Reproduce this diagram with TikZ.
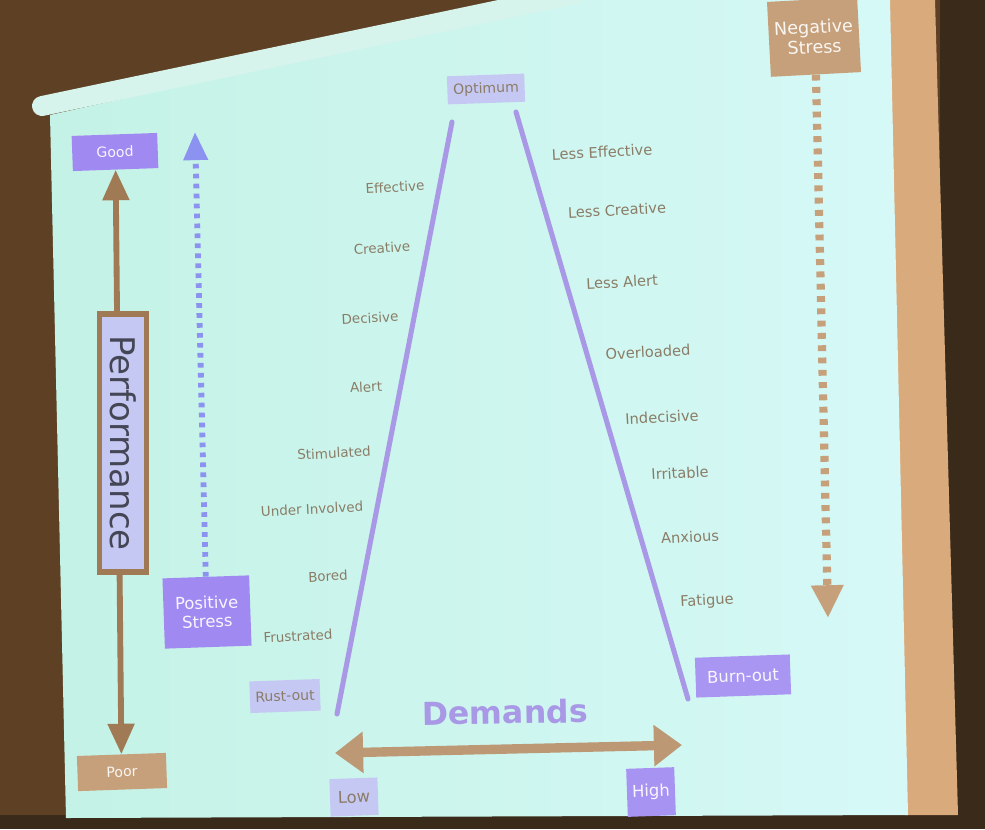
\documentclass[tikz,border=0pt]{standalone}
\usepackage{fontspec}
\setmainfont{DejaVu Sans}
\usetikzlibrary{arrows.meta}
\definecolor{wall}{HTML}{5E4024}
\definecolor{walldark}{HTML}{3A2A1A}
\definecolor{screen}{HTML}{C4F2E6}
\definecolor{screenlight}{HTML}{D6F9F7}
\definecolor{frameb}{HTML}{D9AA7C}
\definecolor{roller}{HTML}{D6F3EC}
\definecolor{lbl}{HTML}{8A7C66}
\definecolor{purp}{HTML}{A08AF2}
\definecolor{lav}{HTML}{C6C8F4}
\definecolor{tan}{HTML}{C6A07B}
\definecolor{brownarr}{HTML}{A07A55}
\definecolor{trap}{HTML}{A898E6}
\definecolor{posblue}{HTML}{8C92F0}
\tikzset{
  lab/.style={text=lbl,font=\fontsize{11.5}{13}\selectfont,rotate=3,inner sep=1pt},
  rlab/.style={lab,font=\fontsize{12.5}{14}\selectfont},
  box/.style={rotate=2,minimum width=#1,inner sep=1pt,align=center,font=\fontsize{12}{13}\selectfont},
  purpbox/.style={box=#1,fill=purp,text=white!92!purp},
  lavbox/.style={box=#1,fill=lav,text=lbl},
  tanbox/.style={box=#1,fill=tan,text=white!90!tan},
  trapline/.style={draw=trap,line width=4.3pt,line cap=round},
}
\begin{document}
\begin{tikzpicture}[x=0.03cm,y=-0.03cm]
\useasboundingbox (0,0) rectangle (985,829);
% photo background
\fill[wall] (0,0) rectangle (985,829);
\fill[walldark] (940,0) rectangle (985,829);
\fill[walldark] (0,815) rectangle (985,829);
\fill[frameb] (885,0) -- (935,0) -- (958,815) -- (905,815) -- cycle;
\shade[left color=screen,right color=screenlight] (50,115) -- (565,0) -- (890,0) -- (908,815) -- (66,818) -- cycle;
\draw[roller,line width=17pt,line cap=round] (42,106) -- (575,-6);
% trapezoid
\coordinate (tl) at (452,122);
\coordinate (bl) at (337,714);
\coordinate (tr) at (516,112);
\coordinate (br) at (688,699);
\draw[trapline] (tl) -- (bl);
\draw[trapline] (tr) -- (br);
% top box
\node[lavbox=66pt,minimum height=24pt] (opt) at (486,89) {Optimum};
% negative stress
\node[tanbox=77pt,minimum height=64pt,rotate=1,font=\fontsize{15}{17}\selectfont] (neg) at (814,37) {Negative\\Stress};
\coordinate (negend) at (828,618);
\draw[tan,line width=7pt,dash pattern=on 5pt off 5.5pt,-{Triangle[width=26pt,length=28pt]}] (neg.south) -- (negend);
% performance axis
\node[purpbox=73pt,minimum height=30pt] (good) at (115,152) {Good};
\node[tanbox=76pt,minimum height=30pt] (poor) at (122,772) {Poor};
\draw[brownarr,line width=5pt,{Triangle[width=22pt,length=26pt]}-{Triangle[width=22pt,length=26pt]}] (good.south) -- (poor.north);
\node[draw=brownarr,line width=5pt,fill=lav,minimum width=220pt,minimum height=40pt,rotate=-90,text=black!65!lav,font=\fontsize{29}{31}\selectfont,inner sep=2pt] (perf) at (123,443) {Performance};
% positive stress
\node[purpbox=74pt,minimum height=60pt,font=\fontsize{14}{16}\selectfont] (pos) at (207,612) {Positive\\Stress};
\coordinate (posend) at (195,132);
\draw[posblue,line width=5pt,dash pattern=on 4pt off 4.5pt,-{Triangle[width=20pt,length=24pt]}] (pos.north) -- (posend);
% left labels
\node[lab] (l1) at (395,187) {Effective};
\node[lab] (l2) at (382,248) {Creative};
\node[lab] (l3) at (370,318) {Decisive};
\node[lab] (l4) at (366,387) {Alert};
\node[lab] (l5) at (334,453) {Stimulated};
\node[lab] (l6) at (312,509) {Under Involved};
\node[lab] (l7) at (328,576) {Bored};
\node[lab] (l8) at (298,636) {Frustrated};
\node[lavbox=60pt,minimum height=27pt] (rust) at (285,696) {Rust-out};
% right labels
\node[rlab] (r1) at (602,152) {Less Effective};
\node[rlab] (r2) at (617,210) {Less Creative};
\node[rlab] (r3) at (622,282) {Less Alert};
\node[rlab] (r4) at (648,352) {Overloaded};
\node[rlab] (r5) at (662,417) {Indecisive};
\node[rlab] (r6) at (680,473) {Irritable};
\node[rlab] (r7) at (690,537) {Anxious};
\node[rlab] (r8) at (707,601) {Fatigue};
\node[purpbox=81pt,minimum height=34pt,fill=purp!80!lav,font=\fontsize{14}{15}\selectfont] (burn) at (743,676) {Burn-out};
% demands
\node[text=trap,font=\bfseries\fontsize{27}{30}\selectfont,rotate=1] (dem) at (505,712) {Demands};
\coordinate (dlow) at (335,753);
\coordinate (dhigh) at (682,745);
\draw[tan!95!black,line width=8pt,{Triangle[width=34pt,length=24pt]}-{Triangle[width=34pt,length=24pt]}] (dlow) -- (dhigh);
\node[lavbox=41pt,minimum height=32pt,font=\fontsize{14}{15}\selectfont] (low) at (354,797) {Low};
\node[purpbox=41pt,minimum height=41pt,fill=purp!85!lav,font=\fontsize{14}{15}\selectfont] (high) at (651,792) {High};
\end{tikzpicture}
\end{document}
